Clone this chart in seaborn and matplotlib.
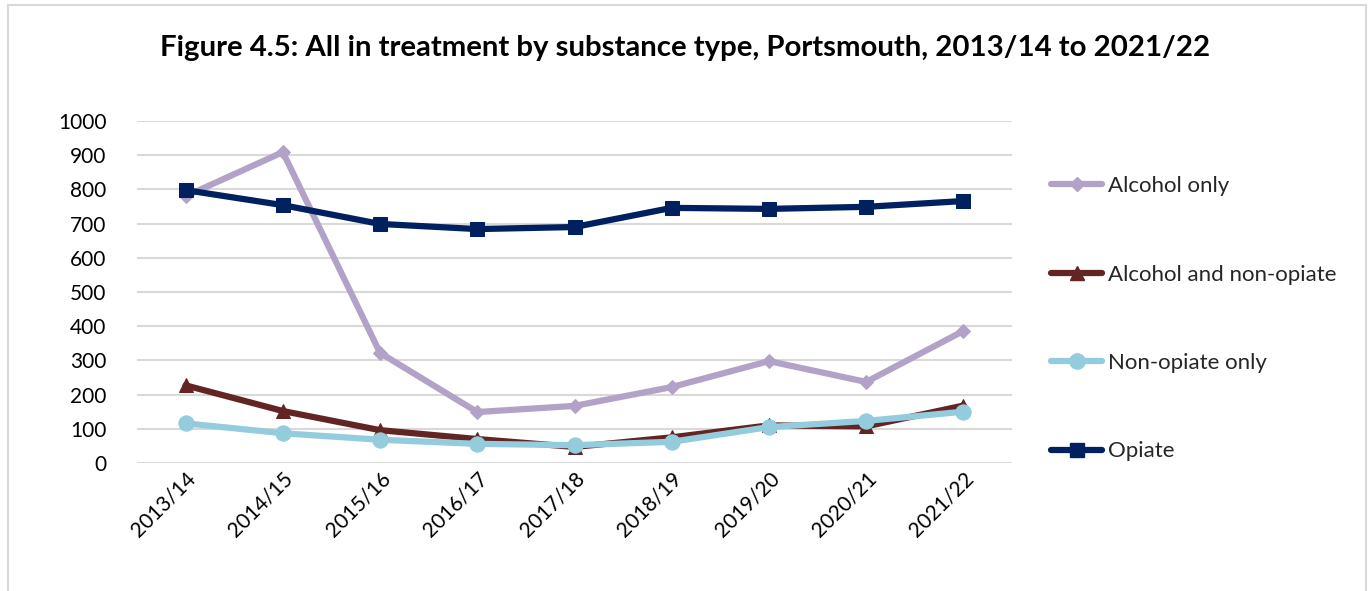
import matplotlib
matplotlib.use("Agg")
import matplotlib.pyplot as plt
from matplotlib.patches import Rectangle
from matplotlib.lines import Line2D
import seaborn as sns
import pandas as pd

years = ["2013/14", "2014/15", "2015/16", "2016/17", "2017/18",
         "2018/19", "2019/20", "2020/21", "2021/22"]
alcohol_only = [780, 909, 322, 149, 167, 222, 298, 237, 386]
alcohol_non_opiate = [227, 152, 96, 70, 47, 75, 110, 107, 168]
non_opiate_only = [116, 87, 68, 56, 52, 62, 105, 123, 150]
opiate = [798, 754, 699, 684, 690, 746, 743, 749, 766]

series = ["Alcohol only", "Alcohol and non-opiate", "Non-opiate only", "Opiate"]
values = [alcohol_only, alcohol_non_opiate, non_opiate_only, opiate]
colors = ["#B3A2C7", "#632523", "#93CDDD", "#002060"]
markers = ["D", "^", "o", "s"]
msizes = [7, 10, 11, 10]

sns.set_theme(style="white")
plt.rcParams["font.family"] = ["Lato", "DejaVu Sans"]

fig = plt.figure(figsize=(13.7, 5.91), dpi=100)
ax = fig.add_axes([137 / 1370, 1 - 463 / 591, (1012 - 137) / 1370, (463 - 121) / 591])

# light frame around the whole chart area
fig.patches.append(Rectangle((8 / 1370, -0.05), (1366 - 8) / 1370, 1.05 - 5 / 591,
                             transform=fig.transFigure, fill=False,
                             edgecolor="#D9D9D9", linewidth=1.5))

df = pd.DataFrame({"year": years * len(series),
                   "series": sum([[s] * len(years) for s in series], []),
                   "value": sum(values, [])})

for s, c, m, ms in zip(series, colors, markers, msizes):
    sub = df[df["series"] == s]
    sns.lineplot(data=sub, x="year", y="value", ax=ax, color=c, marker=m,
                 markersize=ms, markeredgecolor=c, linewidth=4.5, sort=False,
                 label=s, legend=False)

ax.set_xlim(-0.5, len(years) - 0.5)
ax.set_ylim(0, 1000)
ax.set_yticks(range(0, 1001, 100))
ax.yaxis.grid(True, color="#D9D9D9", linewidth=1.5)
ax.xaxis.grid(False)
for sp in ax.spines.values():
    sp.set_visible(False)
ax.set_xlabel("")
ax.set_ylabel("")
ax.tick_params(axis="both", length=0, labelsize=15, colors="black")
ax.tick_params(axis="y", pad=22)
ax.tick_params(axis="x", pad=4)
for lab in ax.get_xticklabels():
    lab.set_rotation(45)
    lab.set_ha("right")
    lab.set_rotation_mode("anchor")

fig.text(0.500, 1 - 48 / 591, "Figure 4.5: All in treatment by substance type, Portsmouth, 2013/14 to 2021/22",
         ha="center", va="center", fontsize=21.2, fontweight="bold", color="black")

handles = [Line2D([0], [0], color=c, marker=m, markersize=ms, linewidth=4.5,
                  markeredgecolor=c) for c, m, ms in zip(colors, markers, msizes)]
fig.legend(handles, series, loc="upper left", bbox_to_anchor=(1040 / 1370, 1 - 165 / 591),
           frameon=False, fontsize=16, handlelength=2.3, handletextpad=0.25,
           labelspacing=3.08, borderpad=0)

fig.savefig("out.png", dpi=100)
